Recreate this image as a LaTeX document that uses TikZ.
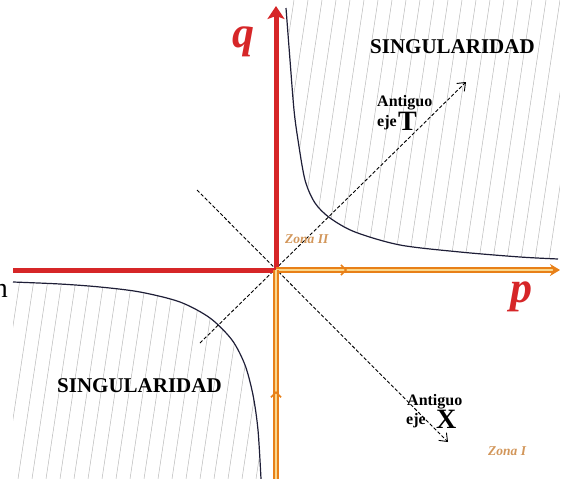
\documentclass[tikz,border=0pt]{standalone}
\usepackage{fontspec}
\setmainfont{Liberation Serif}
\usetikzlibrary{arrows.meta,decorations.markings}
\definecolor{axisred}{RGB}{214,38,40}
\definecolor{axisorange}{RGB}{232,128,24}
\definecolor{axiscream}{RGB}{250,215,140}
\definecolor{zonetan}{RGB}{210,150,90}
\definecolor{curvenavy}{RGB}{30,30,55}

\begin{document}
\begin{tikzpicture}[x=1pt,y=-1pt,>=Stealth,
    hatch/.style={gray!55,line width=0.5pt},
    branch/.style={curvenavy,line width=1.2pt},
    redaxis/.style={axisred,line width=5pt},
    zoneaxis/.style={axisorange,line width=1.8pt,double=axiscream,double distance=1.5pt},
    midtip/.style={postaction={decorate},decoration={markings,
        mark=at position #1 with {\arrow[axisorange,line width=1.5pt]{Straight Barb[length=5pt,width=10pt]}}}},
    oldaxis/.style={black,line width=0.9pt,dash pattern=on 3.5pt off 2pt,
        -{Straight Barb[length=7pt,width=11pt]}},
    singlabel/.style={inner sep=0pt,anchor=base west,font=\fontsize{21}{21}\selectfont\bfseries},
    oldlabel/.style={inner sep=0pt,anchor=base west,font=\fontsize{16}{16}\selectfont\bfseries},
    biglabel/.style={inner sep=0pt,anchor=base west,font=\fontsize{28}{28}\selectfont\bfseries},
    zonelabel/.style={inner sep=0pt,anchor=base west,zonetan,font=\fontsize{13.5}{13.5}\selectfont\bfseries\itshape},
    varlabel/.style={inner sep=0pt,anchor=base,axisred,font=\fontsize{44}{44}\selectfont\bfseries\itshape}]
    \useasboundingbox (0,0) rectangle (568,479);

    % Points
    \coordinate (O) at (276,270);
    \coordinate (pL) at (13,270);
    \coordinate (pR) at (560,270);
    \coordinate (qT) at (276,6);
    \coordinate (qB) at (276,479);
    \coordinate (T0) at (200,343);
    \coordinate (T1) at (466,82);
    \coordinate (X0) at (197,190);
    \coordinate (X1) at (448,442);

    % Upper singular region
    \begin{scope}
        \clip plot[smooth] coordinates {(286,0) (286,8) (290,60) (294,110) (298,140) (305,180)
            (315,203) (330,218) (355,232) (400,245) (460,252) (520,257) (560,259)}
            -- (560,0) -- cycle;
        \foreach \x in {180,194,...,600}
            \draw[hatch] (\x,479) -- ++(72,-479);
    \end{scope}
    \draw[branch] plot[smooth] coordinates {(286,8) (290,60) (294,110) (298,140) (305,180)
        (315,203) (330,218) (355,232) (400,245) (460,252) (520,257) (558,259)};

    % Lower singular region
    \begin{scope}
        \clip plot[smooth] coordinates {(13,282) (60,284) (100,287) (140,292) (180,302)
            (210,318) (232,340) (245,365) (253,395) (258,430) (261,479)}
            -- (13,479) -- cycle;
        \foreach \x in {-80,-66,...,300}
            \draw[hatch] (\x,479) -- ++(72,-479);
    \end{scope}
    \draw[branch] plot[smooth] coordinates {(13,282) (60,284) (100,287) (140,292) (180,302)
        (210,318) (232,340) (245,365) (253,395) (258,430) (261,479)};

    % Old axes (dashed)
    \draw[oldaxis] (T0) -- (T1);
    \draw[oldaxis] (X0) -- (X1);

    % Axes p, q
    \draw[redaxis] (pL) -- (O);
    \draw[redaxis,-{Stealth[length=13pt,width=17pt,inset=3pt]}] ([yshift=2pt]O) -- (qT);
    \draw[zoneaxis,midtip=0.25,-{Stealth[length=10pt,width=12pt]}] (O) -- (pR);
    \draw[zoneaxis,midtip=0.42] (qB) -- (O);

    % Labels
    \node[varlabel] (qlab) at (243,47) {q};
    \node[varlabel] (plab) at (521,302) {p};
    \node[inner sep=0pt,anchor=base east,font=\fontsize{28}{28}\selectfont] (nlab) at (8,297) {n};
    \node[singlabel] (singU) at (370,53) {SINGULARIDAD};
    \node[singlabel] (singL) at (57,392) {SINGULARIDAD};
    \node[oldlabel] (antT) at (377,106) {Antiguo};
    \node[oldlabel] (ejeT) at (377,126) {eje};
    \node[biglabel] (letT) at (398,130) {T};
    \node[oldlabel] (antX) at (407,405) {Antiguo};
    \node[oldlabel] (ejeX) at (406,424) {eje};
    \node[biglabel] (letX) at (436,428) {X};
    \node[zonelabel] (zoneII) at (285,243) {Zona II};
    \node[zonelabel] (zoneI) at (488,455) {Zona I};
\end{tikzpicture}
\end{document}
